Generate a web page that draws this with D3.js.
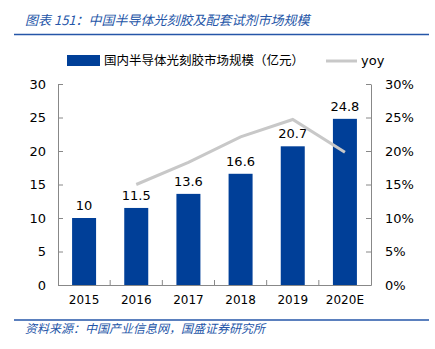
<!DOCTYPE html>
<html>
<head>
<meta charset="utf-8">
<script src="https://cdn.jsdelivr.net/npm/d3@7"></script>
<style>
  body { margin: 0; background: #fff; }
  text { font-family: "DejaVu Sans", Verdana, sans-serif; }
  .cjk { font-family: "Noto Sans CJK SC", sans-serif; }
</style>
</head>
<body>
<div id="chart"></div>
<script>
// Data
var years = ['2015', '2016', '2017', '2018', '2019', '2020E'];
var market = [10, 11.5, 13.6, 16.6, 20.7, 24.8];
var yoy = [null, 0.15, 0.183, 0.221, 0.247, 0.198];
var leftTicks = [0, 5, 10, 15, 20, 25, 30];
var rightTicks = [0, 0.05, 0.10, 0.15, 0.20, 0.25, 0.30];

var width = 435, height = 349;
var margin = {left: 58, top: 84, right: 64, bottom: 64};
var plot_w = width - margin.left - margin.right;
var plot_h = height - margin.top - margin.bottom;
var blue = '#003f98';
var titleBlue = '#2556a8';

var svg = d3.select('#chart')
  .append('svg')
  .attr('width', width)
  .attr('height', height);

// Title and rules
svg.append('text')
  .attr('class', 'cjk')
  .attr('x', 25).attr('y', 25)
  .attr('font-size', 13)
  .attr('font-style', 'italic')
  .attr('fill', titleBlue)
  .text('图表 151：中国半导体光刻胶及配套试剂市场规模');

svg.append('line')
  .attr('x1', 14).attr('x2', 429).attr('y1', 34.5).attr('y2', 34.5)
  .attr('stroke', titleBlue).attr('stroke-width', 1.5);

svg.append('line')
  .attr('x1', 14).attr('x2', 429).attr('y1', 320).attr('y2', 320)
  .attr('stroke', titleBlue).attr('stroke-width', 1.5);

svg.append('text')
  .attr('class', 'cjk')
  .attr('x', 25).attr('y', 333)
  .attr('font-size', 12)
  .attr('font-style', 'italic')
  .attr('fill', titleBlue)
  .text('资料来源：中国产业信息网，国盛证券研究所');

// Scales
var x = d3.scaleBand().domain(years).range([0, plot_w]).paddingInner(0).paddingOuter(0);
var y = d3.scaleLinear().domain([0, 30]).range([plot_h, 0]);
var y2 = d3.scaleLinear().domain([0, 0.30]).range([plot_h, 0]);
var bar_w = 24;

var g = svg.append('g')
  .attr('transform', 'translate(' + margin.left + ',' + margin.top + ')');

// Bars
g.selectAll('.bar')
  .data(market)
  .enter()
  .append('rect')
  .attr('class', 'bar')
  .attr('x', function(d, i){ return x(years[i]) + x.bandwidth()/2 - bar_w/2; })
  .attr('y', function(d){ return y(d); })
  .attr('width', bar_w)
  .attr('height', function(d){ return plot_h - y(d); })
  .attr('fill', blue);

// Bar labels
g.selectAll('.bar-label')
  .data(market)
  .enter()
  .append('text')
  .attr('class', 'bar-label')
  .attr('x', function(d, i){ return x(years[i]) + x.bandwidth()/2; })
  .attr('y', function(d){ return y(d) - 8; })
  .attr('text-anchor', 'middle')
  .attr('font-size', 13)
  .attr('fill', '#000')
  .text(function(d){ return d; });

// yoy line
var line = d3.line()
  .defined(function(d){ return d != null; })
  .x(function(d, i){ return x(years[i]) + x.bandwidth()/2; })
  .y(function(d){ return y2(d); });

g.append('path')
  .datum(yoy)
  .attr('d', line)
  .attr('fill', 'none')
  .attr('stroke', '#c8c8c8')
  .attr('stroke-width', 3);

// Axes
var leftAxis = g.append('g')
  .call(d3.axisLeft(y).tickValues(leftTicks).tickSizeInner(-5).tickSizeOuter(0).tickPadding(12));
var rightAxis = g.append('g')
  .attr('transform', 'translate(' + plot_w + ',0)')
  .call(d3.axisRight(y2).tickValues(rightTicks).tickFormat(d3.format('.0%')).tickSizeInner(-5).tickSizeOuter(0).tickPadding(14));
var bottomAxis = g.append('g')
  .attr('transform', 'translate(0,' + plot_h + ')')
  .call(d3.axisBottom(x).tickSize(0).tickPadding(10));

// Category boundary ticks on the x axis
g.selectAll('.xtick')
  .data(years.slice(1))
  .enter()
  .append('line')
  .attr('x1', function(d){ return x(d); })
  .attr('x2', function(d){ return x(d); })
  .attr('y1', plot_h).attr('y2', plot_h - 5)
  .attr('stroke', '#888');

[leftAxis, rightAxis, bottomAxis].forEach(function(a){
  a.selectAll('path, line').attr('stroke', '#888');
  a.selectAll('text')
    .attr('font-family', '"DejaVu Sans", Verdana, sans-serif')
    .attr('font-size', 13)
    .attr('fill', '#000');
});
bottomAxis.selectAll('text').attr('font-size', 12);

// Legend
var legend = svg.append('g');
legend.append('rect')
  .attr('x', 67).attr('y', 55).attr('width', 33).attr('height', 11)
  .attr('fill', blue);
legend.append('text')
  .attr('class', 'cjk')
  .attr('x', 104).attr('y', 65)
  .attr('font-size', 12.5)
  .attr('fill', '#000')
  .text('国内半导体光刻胶市场规模（亿元）');
legend.append('line')
  .attr('x1', 326).attr('x2', 357).attr('y1', 61).attr('y2', 61)
  .attr('stroke', '#c8c8c8').attr('stroke-width', 3);
legend.append('text')
  .attr('x', 361).attr('y', 65)
  .attr('font-size', 13)
  .attr('fill', '#000')
  .text('yoy');
</script>
</body>
</html>
